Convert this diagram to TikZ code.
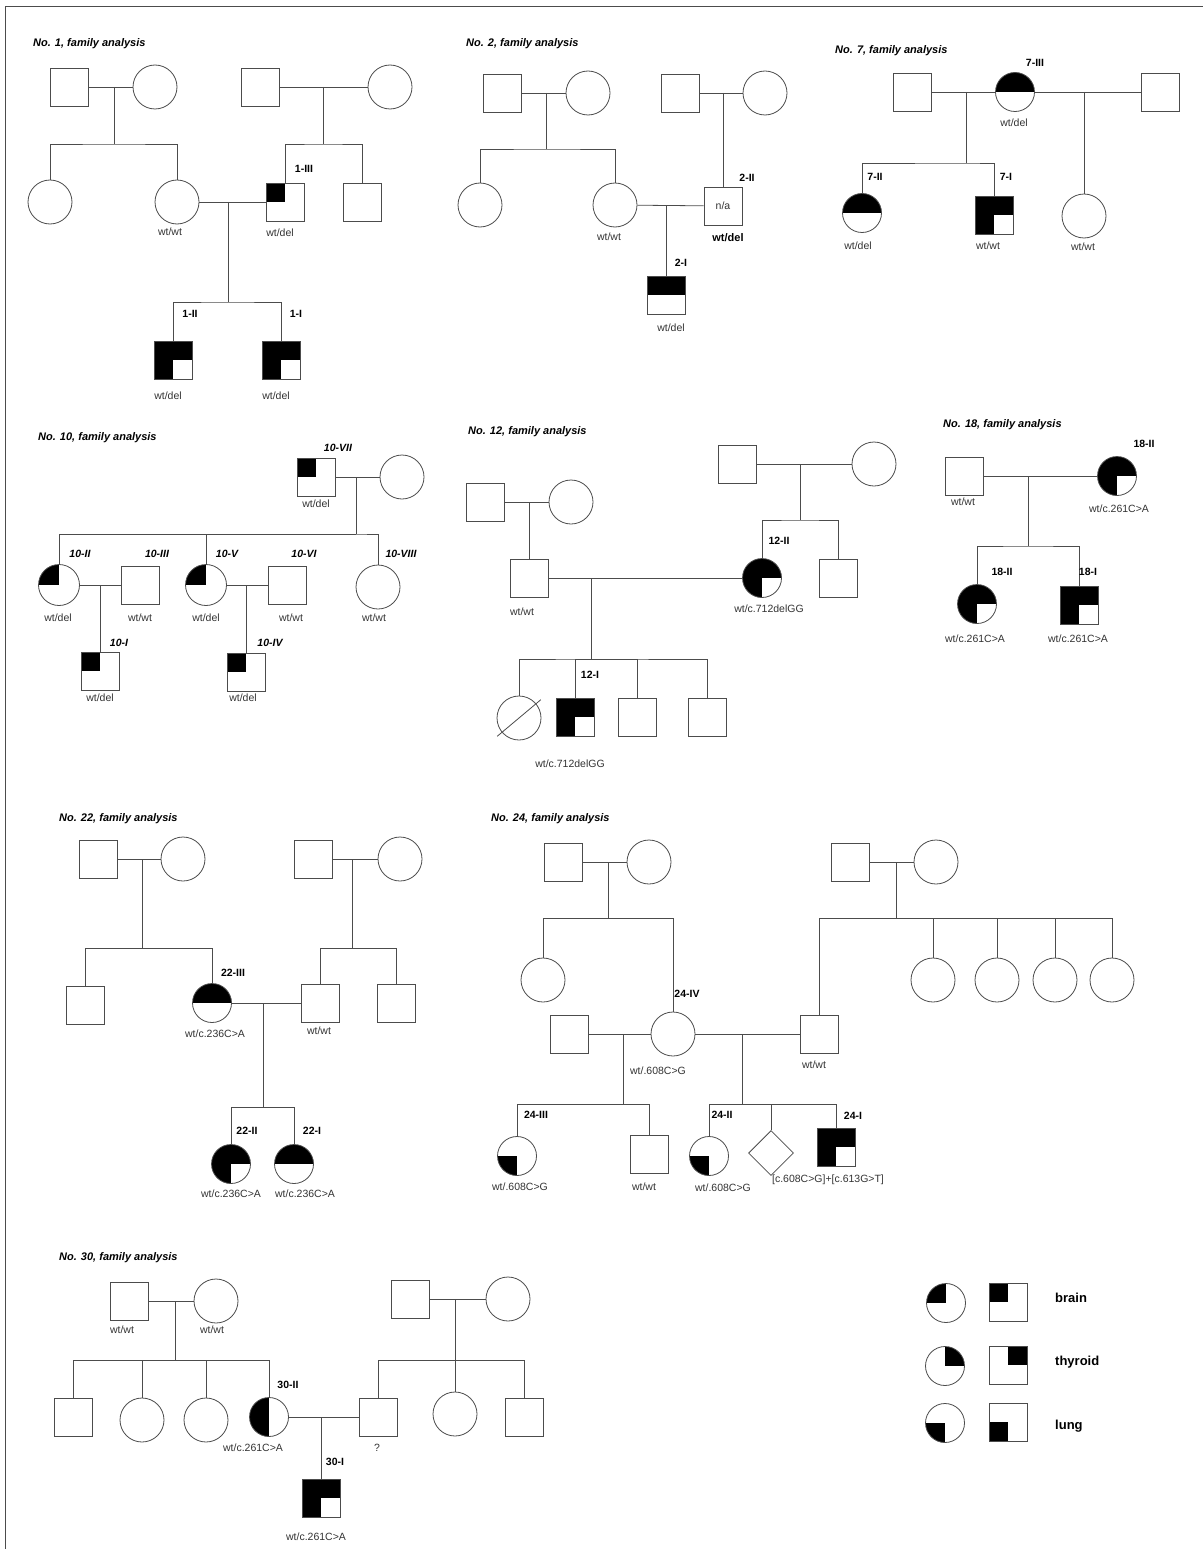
\documentclass[tikz,border=0pt]{standalone}
\usepackage{fontspec}
\setmainfont{Liberation Sans}
\usetikzlibrary{positioning,shapes.geometric}
\definecolor{lc}{gray}{0.3}

\begin{document}
\begin{tikzpicture}[x=1pt,y=-1pt]
% STYLES
\tikzset{%
    male/.style={rectangle,draw=lc,line width=0.8pt,fill=white,
        minimum size=38pt,inner sep=0pt},
    fem/.style={circle,draw=lc,line width=0.8pt,fill=white,
        minimum size=44pt,inner sep=0pt},
    afem/.style={fem,minimum size=39pt},
    unk/.style={diamond,draw=lc,line width=0.8pt,fill=white,
        minimum size=45pt,inner sep=0pt},
    aff/.style={path picture={%
        \foreach \q in {#1}
            \fill[black] (path picture bounding box.center)
                rectangle (path picture bounding box.\q);}},
    all3/.style={aff={north west,north east,south west}},
    ln/.style={draw=lc,line width=0.8pt},
    gt/.style={font=\fontsize{10.5}{12}\selectfont,text=black!80,inner sep=1pt},
    idl/.style={font=\bfseries\fontsize{10.5}{12}\selectfont,inner sep=1pt},
    idi/.style={idl,font=\bfseries\itshape\fontsize{10.5}{12}\selectfont},
    ttl/.style={font=\bfseries\itshape\fontsize{11}{13}\selectfont,anchor=west,inner sep=0pt},
    key/.style={font=\bfseries\fontsize{13}{15}\selectfont,anchor=west,inner sep=0pt}
}
\useasboundingbox (0,0) rectangle (1203,1549);
\draw[lc,line width=0.8pt] (5,1549) -- (5,6) -- (1203,6);

% Family 1
\node[ttl] (t1) at (33,44) {No. 1, family analysis};
\node[male] (f1gf) at (69,87) {};
\node[fem] (f1gm) at (155,87) {};
\node[male] (f1hf) at (260,87) {};
\node[fem] (f1hm) at (390,87) {};
\node[fem] (f1a) at (50,202) {};
\node[fem] (f1m) at (177,202) {};
\node[male,aff={north west}] (f1p) at (285,202) {};
\node[male] (f1b) at (362,202) {};
\node[male,all3] (f1c) at (173,360) {};
\node[male,all3] (f1d) at (281,360) {};
\coordinate (j1a) at (114,87); \coordinate (k1a) at (114,144);
\coordinate (j1b) at (323,87); \coordinate (k1b) at (323,144);
\coordinate (j1c) at (228,202); \coordinate (k1c) at (228,302);
\path[ln] (f1gf) edge (f1gm) (f1hf) edge (f1hm) (f1m) edge (f1p);
\draw[ln] (j1a) -- (k1a) (f1a.north) |- (k1a) -| (f1m.north);
\draw[ln] (j1b) -- (k1b) (f1p.north) |- (k1b) -| (f1b.north);
\draw[ln] (j1c) -- (k1c) (f1c.north) |- (k1c) -| (f1d.north);
\node[idl] (i1p) at (304,169) {1-III};
\node[idl] (i1c) at (190,314) {1-II};
\node[idl] (i1d) at (296,314) {1-I};
\node[gt] (g1m) at (170,232) {wt/wt};
\node[gt] (g1p) at (280,233) {wt/del};
\node[gt] (g1c) at (168,396) {wt/del};
\node[gt] (g1d) at (276,396) {wt/del};

% Family 2
\node[ttl] (t2) at (466,44) {No. 2, family analysis};
\node[male] (f2gf) at (502,93) {};
\node[fem] (f2gm) at (588,93) {};
\node[male] (f2hf) at (680,93) {};
\node[fem] (f2hm) at (765,93) {};
\node[fem] (f2a) at (480,205) {};
\node[fem] (f2m) at (615,205) {};
\node[male,gt] (f2p) at (723,206) {n/a};
\node[male,aff={north west,north east}] (f2c) at (666,295) {};
\coordinate (j2a) at (546,93); \coordinate (k2a) at (546,149);
\coordinate (j2b) at (723,93);
\coordinate (j2c) at (666,206);
\path[ln] (f2gf) edge (f2gm) (f2hf) edge (f2hm) (f2m) edge (f2p);
\draw[ln] (j2a) -- (k2a) (f2a.north) |- (k2a) -| (f2m.north);
\draw[ln] (j2b) -- (f2p.north) (j2c) -- (f2c.north);
\node[idl] (i2p) at (747,178) {2-II};
\node[idl] (i2c) at (681,263) {2-I};
\node[idl,font=\bfseries\fontsize{11}{13}\selectfont] (g2p) at (728,238) {wt/del};
\node[gt] (g2m) at (609,237) {wt/wt};
\node[gt] (g2c) at (671,328) {wt/del};

% Family 7
\node[ttl] (t7) at (835,51) {No. 7, family analysis};
\node[male] (f7f) at (912,92) {};
\node[afem,aff={north west,north east}] (f7m) at (1015,92) {};
\node[male] (f7s) at (1160,92) {};
\node[afem,aff={north west,north east}] (f7a) at (862,213) {};
\node[male,all3] (f7b) at (994,215) {};
\node[fem] (f7c) at (1084,216) {};
\coordinate (j7a) at (966,92); \coordinate (k7a) at (966,163);
\coordinate (j7b) at (1084,92);
\draw[ln] (f7f) -- (f7m) -- (f7s);
\draw[ln] (j7a) -- (k7a) (f7a.north) |- (k7a) -| (f7b.north);
\draw[ln] (j7b) -- (f7c.north);
\node[idl] (i7m) at (1035,63) {7-III};
\node[idl] (i7a) at (875,177) {7-II};
\node[idl] (i7b) at (1006,177) {7-I};
\node[gt] (g7m) at (1014,123) {wt/del};
\node[gt] (g7a) at (858,246) {wt/del};
\node[gt] (g7b) at (988,246) {wt/wt};
\node[gt] (g7c) at (1083,247) {wt/wt};

% Family 10
\node[ttl] (t10) at (38,438) {No. 10, family analysis};
\node[male,aff={north west}] (f10g) at (316,477) {};
\node[fem] (f10w) at (402,477) {};
\node[afem,minimum size=41pt,aff={north west}] (f10a) at (59,585) {};
\node[male] (f10b) at (140,585) {};
\node[afem,minimum size=41pt,aff={north west}] (f10c) at (206,585) {};
\node[male] (f10d) at (287,585) {};
\node[fem] (f10e) at (378,587) {};
\node[male,aff={north west}] (f10x) at (100,671) {};
\node[male,aff={north west}] (f10y) at (246,672) {};
\coordinate (j10) at (356,477); \coordinate (k10) at (356,534);
\coordinate (j10a) at (100,585); \coordinate (j10b) at (246,585);
\path[ln] (f10g) edge (f10w) (f10a) edge (f10b) (f10c) edge (f10d);
\draw[ln] (j10) -- (k10) (f10a.north) |- (k10) -| (f10e.north);
\draw[ln] (f10c.north) |- (k10);
\draw[ln] (j10a) -- (f10x.north) (j10b) -- (f10y.north);
\node[idi] (i10g) at (338,448) {10-VII};
\node[idi] (i10a) at (80,554) {10-II};
\node[idi] (i10b) at (157,554) {10-III};
\node[idi] (i10c) at (227,554) {10-V};
\node[idi] (i10d) at (304,554) {10-VI};
\node[idi] (i10e) at (401,554) {10-VIII};
\node[idi] (i10x) at (119,643) {10-I};
\node[idi] (i10y) at (270,643) {10-IV};
\node[gt] (g10g) at (316,504) {wt/del};
\node[gt] (g10a) at (58,618) {wt/del};
\node[gt] (g10b) at (140,618) {wt/wt};
\node[gt] (g10c) at (206,618) {wt/del};
\node[gt] (g10d) at (291,618) {wt/wt};
\node[gt] (g10e) at (374,618) {wt/wt};
\node[gt] (g10x) at (100,698) {wt/del};
\node[gt] (g10y) at (243,698) {wt/del};

% Family 12
\node[ttl] (t12) at (468,432) {No. 12, family analysis};
\node[male] (f12gf) at (485,502) {};
\node[fem] (f12gm) at (571,502) {};
\node[male] (f12hf) at (737,464) {};
\node[fem] (f12hm) at (874,464) {};
\node[male] (f12f) at (529,578) {};
\node[afem,all3] (f12m) at (762,578) {};
\node[male] (f12b) at (838,578) {};
\node[fem] (f12d) at (519,718) {};
\node[male,all3] (f12c) at (575,717) {};
\node[male] (f12e) at (637,717) {};
\node[male] (f12g) at (707,717) {};
\coordinate (j12a) at (529,502);
\coordinate (j12b) at (800,464); \coordinate (k12b) at (800,520);
\coordinate (j12c) at (591,578); \coordinate (k12c) at (591,659);
\path[ln] (f12gf) edge (f12gm) (f12hf) edge (f12hm) (f12f) edge (f12m);
\draw[ln] (j12a) -- (f12f.north);
\draw[ln] (j12b) -- (k12b) (f12m.north) |- (k12b) -| (f12b.north);
\draw[ln] (j12c) -- (k12c) (f12d.north) |- (k12c) -| (f12g.north);
\draw[ln] (f12c.north) |- (k12c) (f12e.north) |- (k12c);
\draw[ln,shorten <=-6pt,shorten >=-6pt] (f12d.220) -- (f12d.40);
\node[idl] (i12m) at (779,541) {12-II};
\node[idl] (i12c) at (590,675) {12-I};
\node[gt] (g12f) at (522,612) {wt/wt};
\node[gt] (g12m) at (769,609) {wt/c.712delGG};
\node[gt] (g12c) at (570,764) {wt/c.712delGG};

% Family 18
\node[ttl] (t18) at (943,425) {No. 18, family analysis};
\node[male] (f18f) at (964,476) {};
\node[afem,all3] (f18m) at (1117,476) {};
\node[afem,all3] (f18a) at (977,604) {};
\node[male,all3] (f18b) at (1079,605) {};
\coordinate (j18) at (1028,476); \coordinate (k18) at (1028,546);
\path[ln] (f18f) edge (f18m);
\draw[ln] (j18) -- (k18) (f18a.north) |- (k18) -| (f18b.north);
\node[idl] (i18m) at (1144,444) {18-II};
\node[idl] (i18a) at (1002,572) {18-II};
\node[idl] (i18b) at (1088,572) {18-I};
\node[gt] (g18f) at (963,502) {wt/wt};
\node[gt] (g18m) at (1119,509) {wt/c.261C>A};
\node[gt] (g18a) at (975,639) {wt/c.261C>A};
\node[gt] (g18b) at (1078,639) {wt/c.261C>A};

% Family 22
\node[ttl] (t22) at (59,819) {No. 22, family analysis};
\node[male] (f22gf) at (98,859) {};
\node[fem] (f22gm) at (183,859) {};
\node[male] (f22hf) at (313,859) {};
\node[fem] (f22hm) at (400,859) {};
\node[male] (f22a) at (85,1005) {};
\node[afem,aff={north west,north east}] (f22m) at (212,1003) {};
\node[male] (f22p) at (320,1003) {};
\node[male] (f22b) at (396,1003) {};
\node[afem,all3] (f22c) at (231,1164) {};
\node[afem,aff={north west,north east}] (f22d) at (294,1164) {};
\coordinate (j22a) at (142,859); \coordinate (k22a) at (142,948);
\coordinate (j22b) at (352,859); \coordinate (k22b) at (352,948);
\coordinate (j22c) at (263,1003); \coordinate (k22c) at (263,1107);
\path[ln] (f22gf) edge (f22gm) (f22hf) edge (f22hm) (f22m) edge (f22p);
\draw[ln] (j22a) -- (k22a) (f22a.north) |- (k22a) -| (f22m.north);
\draw[ln] (j22b) -- (k22b) (f22p.north) |- (k22b) -| (f22b.north);
\draw[ln] (j22c) -- (k22c) (f22c.north) |- (k22c) -| (f22d.north);
\node[idl] (i22m) at (233,973) {22-III};
\node[idl] (i22c) at (247,1131) {22-II};
\node[idl] (i22d) at (312,1131) {22-I};
\node[gt] (g22m) at (215,1034) {wt/c.236C>A};
\node[gt] (g22p) at (319,1031) {wt/wt};
\node[gt] (g22c) at (231,1194) {wt/c.236C>A};
\node[gt] (g22d) at (305,1194) {wt/c.236C>A};

% Family 24
\node[ttl] (t24) at (491,819) {No. 24, family analysis};
\node[male] (f24gf) at (563,862) {};
\node[fem] (f24gm) at (649,862) {};
\node[male] (f24hf) at (850,862) {};
\node[fem] (f24hm) at (936,862) {};
\node[fem] (f24a) at (543,980) {};
\node[fem] (f24s1) at (933,980) {};
\node[fem] (f24s2) at (997,980) {};
\node[fem] (f24s3) at (1055,980) {};
\node[fem] (f24s4) at (1112,980) {};
\node[male] (f24q) at (569,1034) {};
\node[fem] (f24m) at (673,1034) {};
\node[male] (f24p) at (819,1034) {};
\node[afem,aff={south west}] (f24c) at (517,1156) {};
\node[male] (f24d) at (649,1154) {};
\node[afem,aff={south west}] (f24e) at (709,1156) {};
\node[unk] (f24u) at (771,1153) {};
\node[male,all3] (f24f) at (836,1147) {};
\coordinate (j24a) at (608,862); \coordinate (k24a) at (608,918);
\coordinate (j24b) at (896,862); \coordinate (k24b) at (896,918);
\coordinate (j24c) at (623,1034); \coordinate (k24c) at (623,1104);
\coordinate (j24d) at (742,1034); \coordinate (k24d) at (742,1104);
\path[ln] (f24gf) edge (f24gm) (f24hf) edge (f24hm)
    (f24q) edge (f24m) (f24m) edge (f24p);
\draw[ln] (j24a) -- (k24a) (f24a.north) |- (k24a) -| (f24m.north);
\draw[ln] (j24b) -- (k24b) (f24p.north) |- (k24b) -| (f24s4.north);
\draw[ln] (k24b) -| (f24s1.north) (k24b) -| (f24s2.north) (k24b) -| (f24s3.north);
\draw[ln] (j24c) -- (k24c) (f24c.north) |- (k24c) -| (f24d.north);
\draw[ln] (j24d) -- (k24d) (f24e.north) |- (k24d) -| (f24f.north);
\draw[ln] (k24d) -| (f24u.north);
\node[idl] (i24m) at (687,994) {24-IV};
\node[idl] (i24c) at (536,1115) {24-III};
\node[idl] (i24e) at (722,1115) {24-II};
\node[idl] (i24f) at (853,1116) {24-I};
\node[gt] (g24m) at (658,1071) {wt/.608C>G};
\node[gt] (g24p) at (814,1065) {wt/wt};
\node[gt] (g24c) at (520,1187) {wt/.608C>G};
\node[gt] (g24d) at (644,1187) {wt/wt};
\node[gt] (g24e) at (723,1188) {wt/.608C>G};
\node[gt] (g24f) at (828,1180) {[c.608C>G]+[c.613G>T]};

% Family 30
\node[ttl] (t30) at (59,1258) {No. 30, family analysis};
\node[male] (f30gf) at (129,1301) {};
\node[fem] (f30gm) at (216,1301) {};
\node[male] (f30hf) at (410,1299) {};
\node[fem] (f30hm) at (508,1299) {};
\node[male] (f30a) at (73,1417) {};
\node[fem] (f30b) at (142,1420) {};
\node[fem] (f30c) at (206,1420) {};
\node[afem,aff={north west,south west}] (f30m) at (269,1417) {};
\node[male] (f30p) at (378,1417) {};
\node[fem] (f30d) at (455,1414) {};
\node[male] (f30e) at (524,1417) {};
\node[male,all3] (f30x) at (321,1498) {};
\coordinate (j30a) at (175,1301); \coordinate (k30a) at (175,1360);
\coordinate (j30b) at (455,1299); \coordinate (k30b) at (455,1360);
\coordinate (j30c) at (321,1417);
\path[ln] (f30gf) edge (f30gm) (f30hf) edge (f30hm) (f30m) edge (f30p);
\draw[ln] (j30a) -- (k30a) (f30a.north) |- (k30a) -| (f30m.north);
\draw[ln] (f30b.north) |- (k30a) (f30c.north) |- (k30a);
\draw[ln] (j30b) -- (k30b) (f30p.north) |- (k30b) -| (f30e.north);
\draw[ln] (k30b) -- (f30d.north);
\draw[ln] (j30c) -- (f30x.north);
\node[idl] (i30m) at (288,1385) {30-II};
\node[idl] (i30x) at (335,1462) {30-I};
\node[gt] (g30gf) at (122,1330) {wt/wt};
\node[gt] (g30gm) at (212,1330) {wt/wt};
\node[gt] (g30m) at (253,1448) {wt/c.261C>A};
\node[gt] (g30p) at (377,1448) {?};
\node[gt] (g30x) at (316,1537) {wt/c.261C>A};

% Legend
\node[afem,aff={north west}] (lb1) at (946,1303) {};
\node[male,aff={north west}] (lb2) at (1008,1302) {};
\node[key] (kb) at (1055,1298) {brain};
\node[afem,aff={north east}] (lt1) at (945,1366) {};
\node[male,aff={north east}] (lt2) at (1008,1365) {};
\node[key] (kt) at (1055,1362) {thyroid};
\node[afem,aff={south west}] (ll1) at (945,1423) {};
\node[male,aff={south west}] (ll2) at (1008,1422) {};
\node[key] (kl) at (1055,1426) {lung};
\end{tikzpicture}
\end{document}
